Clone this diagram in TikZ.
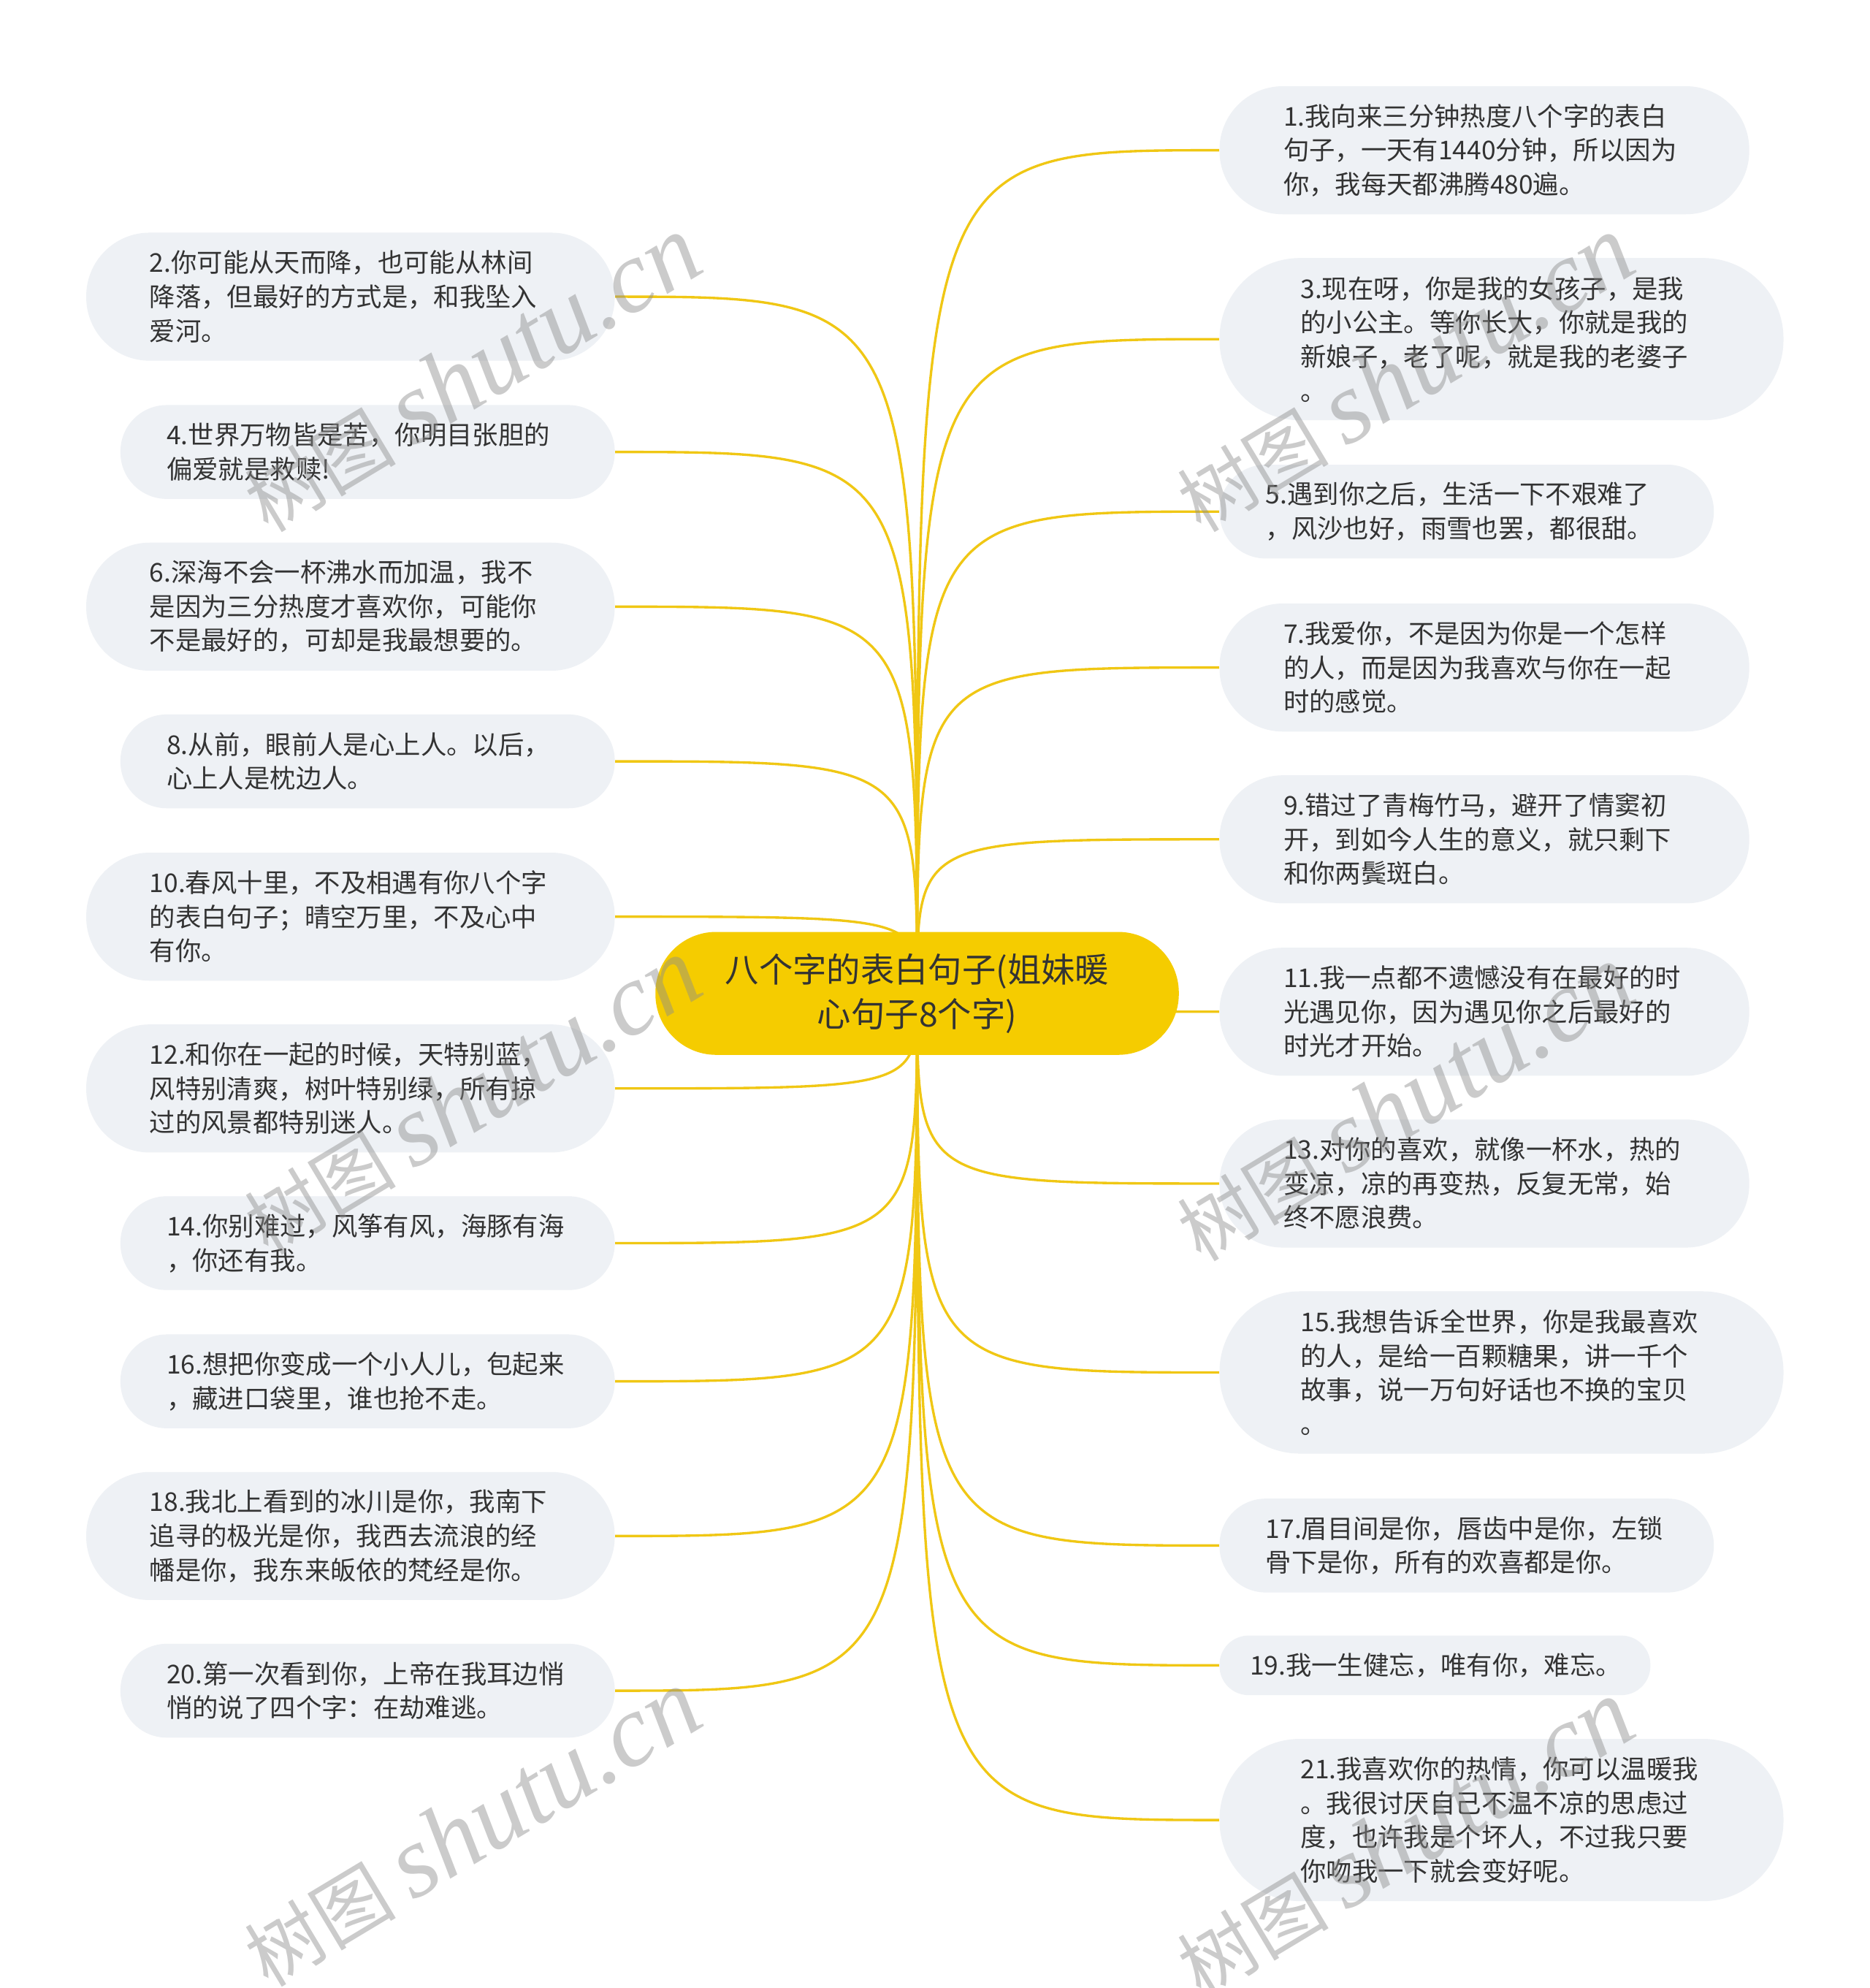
\documentclass[tikz,border=0pt]{standalone}
\usepackage{fontspec}
\setmainfont{Noto Sans CJK SC}
\newfontfamily\wmlatin{Liberation Serif}
\usetikzlibrary{backgrounds}
\definecolor{rootyellow}{RGB}{245,204,0}
\definecolor{linkyellow}{RGB}{240,199,20}
\definecolor{leafgray}{RGB}{238,241,245}
\definecolor{textdark}{RGB}{51,51,51}
\definecolor{markgray}{RGB}{140,140,140}
\newcommand{\leaffont}{\fontsize{11.6pt}{15.3pt}\selectfont}
\newcommand{\rootfont}{\fontsize{15.2pt}{19.9pt}\selectfont}
\newcommand{\wmark}{树图 {\wmlatin\itshape\fontsize{46pt}{46pt}\selectfont shutu.cn}}

\tikzset{
  leaf/.style={fill=leafgray, text=textdark, font=\leaffont, align=left,
               text width=6.34cm, inner xsep=0pt, inner ysep=0pt},
  one/.style={minimum height=0.94cm, rounded corners=0.46cm},
  two/.style={minimum height=1.48cm, rounded corners=0.73cm},
  three/.style={minimum height=2.02cm, rounded corners=1cm},
  four/.style={minimum height=2.56cm, rounded corners=1.27cm},
  link/.style={draw=linkyellow, line width=1.1pt},
  wmstyle/.style={text=markgray, opacity=0.45, rotate=31,
                  font=\fontsize{34pt}{34pt}\selectfont}
}

\begin{document}
\begin{tikzpicture}[x=0.02cm, y=-0.02cm]
  \useasboundingbox (0,0) rectangle (1475,1568);

  % central topic
  \node[fill=rootyellow, text=textdark, font=\rootfont, align=center,
        minimum width=8.26cm, minimum height=1.94cm, rounded corners=0.96cm,
        inner sep=0pt] (root) at (723.5,783.5)
       {八个字的表白句子(姐妹暖\\心句子8个字)};

  % right column
  \node[leaf, three, minimum width=8.36cm] (s1) at (1171,118.5)
       {1.我向来三分钟热度八个字的表白\\句子，一天有1440分钟，所以因为\\你，我每天都沸腾480遍。};
  \node[leaf, four, minimum width=8.9cm] (s3) at (1184.5,267.5)
       {3.现在呀，你是我的女孩子，是我\\的小公主。等你长大，你就是我的\\新娘子，老了呢，就是我的老婆子\\。};
  \node[leaf, two, minimum width=7.8cm] (s5) at (1157,403.5)
       {5.遇到你之后，生活一下不艰难了\\，风沙也好，雨雪也罢，都很甜。};
  \node[leaf, three, minimum width=8.36cm] (s7) at (1171,526.5)
       {7.我爱你，不是因为你是一个怎样\\的人，而是因为我喜欢与你在一起\\时的感觉。};
  \node[leaf, three, minimum width=8.36cm] (s9) at (1171,662)
       {9.错过了青梅竹马，避开了情窦初\\开，到如今人生的意义，就只剩下\\和你两鬓斑白。};
  \node[leaf, three, minimum width=8.36cm] (s11) at (1171,798)
       {11.我一点都不遗憾没有在最好的时\\光遇见你，因为遇见你之后最好的\\时光才开始。};
  \node[leaf, three, minimum width=8.36cm] (s13) at (1171,933.5)
       {13.对你的喜欢，就像一杯水，热的\\变凉，凉的再变热，反复无常，始\\终不愿浪费。};
  \node[leaf, four, minimum width=8.9cm] (s15) at (1184.5,1082.5)
       {15.我想告诉全世界，你是我最喜欢\\的人，是给一百颗糖果，讲一千个\\故事，说一万句好话也不换的宝贝\\。};
  \node[leaf, two, minimum width=7.8cm] (s17) at (1157,1219)
       {17.眉目间是你，唇齿中是你，左锁\\骨下是你，所有的欢喜都是你。};
  \node[leaf, one, minimum width=6.8cm, text width=5.84cm] (s19) at (1132,1313.5)
       {19.我一生健忘，唯有你，难忘。};
  \node[leaf, four, minimum width=8.9cm] (s21) at (1184.5,1435.5)
       {21.我喜欢你的热情，你可以温暖我\\。我很讨厌自己不温不凉的思虑过\\度，也许我是个坏人，不过我只要\\你吻我一下就会变好呢。};

  % left column
  \node[leaf, three, minimum width=8.34cm] (s2) at (276.5,234)
       {2.你可能从天而降，也可能从林间\\降落，但最好的方式是，和我坠入\\爱河。};
  \node[leaf, two, minimum width=7.8cm] (s4) at (290,356.5)
       {4.世界万物皆是苦，你明目张胆的\\偏爱就是救赎!};
  \node[leaf, three, minimum width=8.34cm] (s6) at (276.5,478.5)
       {6.深海不会一杯沸水而加温，我不\\是因为三分热度才喜欢你，可能你\\不是最好的，可却是我最想要的。};
  \node[leaf, two, minimum width=7.8cm] (s8) at (290,600.5)
       {8.从前，眼前人是心上人。以后，\\心上人是枕边人。};
  \node[leaf, three, minimum width=8.34cm] (s10) at (276.5,723)
       {10.春风十里，不及相遇有你八个字\\的表白句子；晴空万里，不及心中\\有你。};
  \node[leaf, three, minimum width=8.34cm] (s12) at (276.5,858.5)
       {12.和你在一起的时候，天特别蓝，\\风特别清爽，树叶特别绿，所有掠\\过的风景都特别迷人。};
  \node[leaf, two, minimum width=7.8cm] (s14) at (290,980.5)
       {14.你别难过，风筝有风，海豚有海\\，你还有我。};
  \node[leaf, two, minimum width=7.8cm] (s16) at (290,1089.5)
       {16.想把你变成一个小人儿，包起来\\，藏进口袋里，谁也抢不走。};
  \node[leaf, three, minimum width=8.34cm] (s18) at (276.5,1211.5)
       {18.我北上看到的冰川是你，我南下\\追寻的极光是你，我西去流浪的经\\幡是你，我东来皈依的梵经是你。};
  \node[leaf, two, minimum width=7.8cm] (s20) at (290,1333.5)
       {20.第一次看到你，上帝在我耳边悄\\悄的说了四个字：在劫难逃。};

  % connectors
  \begin{scope}[on background layer]
    \fill[white] (0,0) rectangle (1475,1568);
    \draw[link] (root.center) .. controls (root.center |- s1.west) .. (s1.west);
    \draw[link] (root.center) .. controls (root.center |- s3.west) .. (s3.west);
    \draw[link] (root.center) .. controls (root.center |- s5.west) .. (s5.west);
    \draw[link] (root.center) .. controls (root.center |- s7.west) .. (s7.west);
    \draw[link] (root.center) .. controls (root.center |- s9.west) .. (s9.west);
    \draw[link] (root.center) .. controls (root.center |- s11.west) .. (s11.west);
    \draw[link] (root.center) .. controls (root.center |- s13.west) .. (s13.west);
    \draw[link] (root.center) .. controls (root.center |- s15.west) .. (s15.west);
    \draw[link] (root.center) .. controls (root.center |- s17.west) .. (s17.west);
    \draw[link] (root.center) .. controls (root.center |- s19.west) .. (s19.west);
    \draw[link] (root.center) .. controls (root.center |- s21.west) .. (s21.west);
    \draw[link] (root.center) .. controls (root.center |- s2.east) .. (s2.east);
    \draw[link] (root.center) .. controls (root.center |- s4.east) .. (s4.east);
    \draw[link] (root.center) .. controls (root.center |- s6.east) .. (s6.east);
    \draw[link] (root.center) .. controls (root.center |- s8.east) .. (s8.east);
    \draw[link] (root.center) .. controls (root.center |- s10.east) .. (s10.east);
    \draw[link] (root.center) .. controls (root.center |- s12.east) .. (s12.east);
    \draw[link] (root.center) .. controls (root.center |- s14.east) .. (s14.east);
    \draw[link] (root.center) .. controls (root.center |- s16.east) .. (s16.east);
    \draw[link] (root.center) .. controls (root.center |- s18.east) .. (s18.east);
    \draw[link] (root.center) .. controls (root.center |- s20.east) .. (s20.east);
  \end{scope}

  % watermarks
  \node[wmstyle] (wm1) at (372,295) {\wmark};
  \node[wmstyle] (wm2) at (1108,295) {\wmark};
  \node[wmstyle] (wm3) at (372,865) {\wmark};
  \node[wmstyle] (wm4) at (1108,870) {\wmark};
  \node[wmstyle] (wm5) at (372,1442) {\wmark};
  \node[wmstyle] (wm6) at (1108,1450) {\wmark};
\end{tikzpicture}
\end{document}
